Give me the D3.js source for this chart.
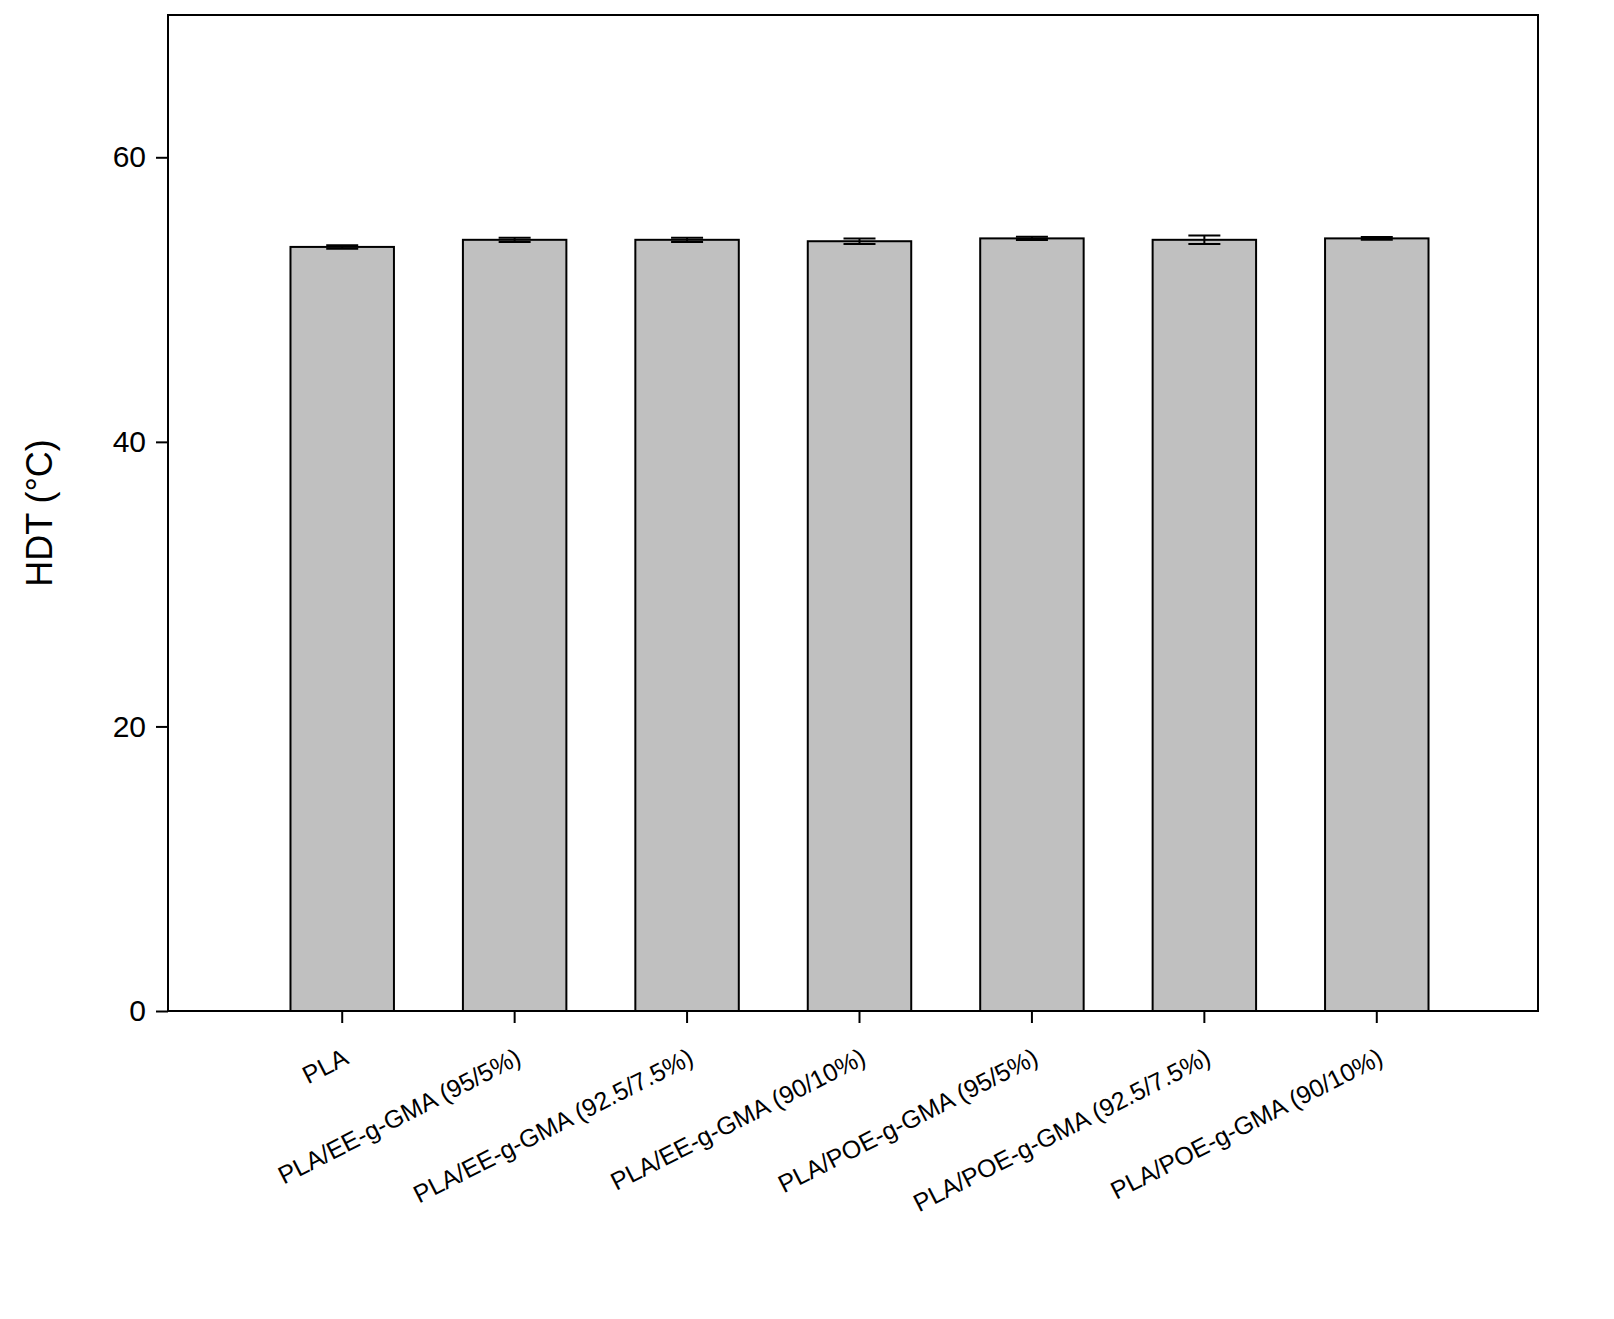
<!DOCTYPE html>
<html><head><meta charset="utf-8">
<script src="https://cdn.jsdelivr.net/npm/d3@7"></script>
<style>body{margin:0;background:#fff}</style></head>
<body><svg id="chart" width="1614" height="1319"></svg>
<script>
// Chart data
var categories = ['PLA', 'PLA/EE-g-GMA (95/5%)', 'PLA/EE-g-GMA (92.5/7.5%)', 'PLA/EE-g-GMA (90/10%)',
  'PLA/POE-g-GMA (95/5%)', 'PLA/POE-g-GMA (92.5/7.5%)', 'PLA/POE-g-GMA (90/10%)'];
var hdtValues = [53.7, 54.2, 54.2, 54.1, 54.3, 54.2, 54.3];
var hdtErrors = [0.12, 0.15, 0.15, 0.2, 0.12, 0.3, 0.1];
var yTicks = [0, 20, 40, 60];

var svg = d3.select('#chart');
var plotLeft = 168, plotRight = 1538, plotTop = 15, plotBottom = 1011;

var y = d3.scaleLinear().domain([0, 70]).range([plotBottom, plotTop]);
var x = d3.scaleBand().domain(categories).range([256, 1463]).paddingInner(0.4).paddingOuter(0.2);

// frame
svg.append('rect').attr('x', plotLeft).attr('y', plotTop).attr('width', plotRight - plotLeft).attr('height', plotBottom - plotTop)
  .attr('fill', 'none').attr('stroke', '#000').attr('stroke-width', 2);

// bars
svg.selectAll('.bar').data(categories).enter().append('rect')
  .attr('x', function (d) { return x(d); })
  .attr('y', function (d, i) { return y(hdtValues[i]); })
  .attr('width', x.bandwidth())
  .attr('height', function (d, i) { return y(0) - y(hdtValues[i]); })
  .attr('fill', '#c0c0c0').attr('stroke', '#000').attr('stroke-width', 2);

// error bars
categories.forEach(function (c, i) {
  var cx = x(c) + x.bandwidth() / 2;
  var g = svg.append('g').attr('stroke', '#000').attr('stroke-width', 2);
  g.append('line').attr('x1', cx).attr('x2', cx).attr('y1', y(hdtValues[i] - hdtErrors[i])).attr('y2', y(hdtValues[i] + hdtErrors[i]));
  [-1, 1].forEach(function (s) {
    g.append('line').attr('x1', cx - 16).attr('x2', cx + 16)
      .attr('y1', y(hdtValues[i] + s * hdtErrors[i])).attr('y2', y(hdtValues[i] + s * hdtErrors[i]));
  });
});

// y axis
var yAxis = svg.append('g').attr('transform', 'translate(' + plotLeft + ',0)')
  .call(d3.axisLeft(y).tickValues(yTicks).tickSize(12).tickPadding(10));
yAxis.select('.domain').remove();
yAxis.selectAll('line').attr('stroke-width', 2);
yAxis.selectAll('text').attr('font-family', 'Arial, Liberation Sans').attr('font-size', 30).attr('fill', '#000');

// x axis
var xAxis = svg.append('g').attr('transform', 'translate(0,' + plotBottom + ')')
  .call(d3.axisBottom(x).tickSize(12));
xAxis.select('.domain').remove();
xAxis.selectAll('line').attr('stroke-width', 2);
xAxis.selectAll('text').attr('font-family', 'Arial, Liberation Sans').attr('font-size', 25).attr('fill', '#000')
  .attr('text-anchor', 'end').attr('dy', null).attr('y', 0)
  .attr('transform', 'translate(8,52) rotate(-27)');

// y label
svg.append('text').attr('transform', 'translate(52,' + (plotTop + plotBottom) / 2 + ') rotate(-90)')
  .attr('text-anchor', 'middle').attr('font-family', 'Arial, Liberation Sans').attr('font-size', 36)
  .text('HDT (°C)');
</script></body></html>
